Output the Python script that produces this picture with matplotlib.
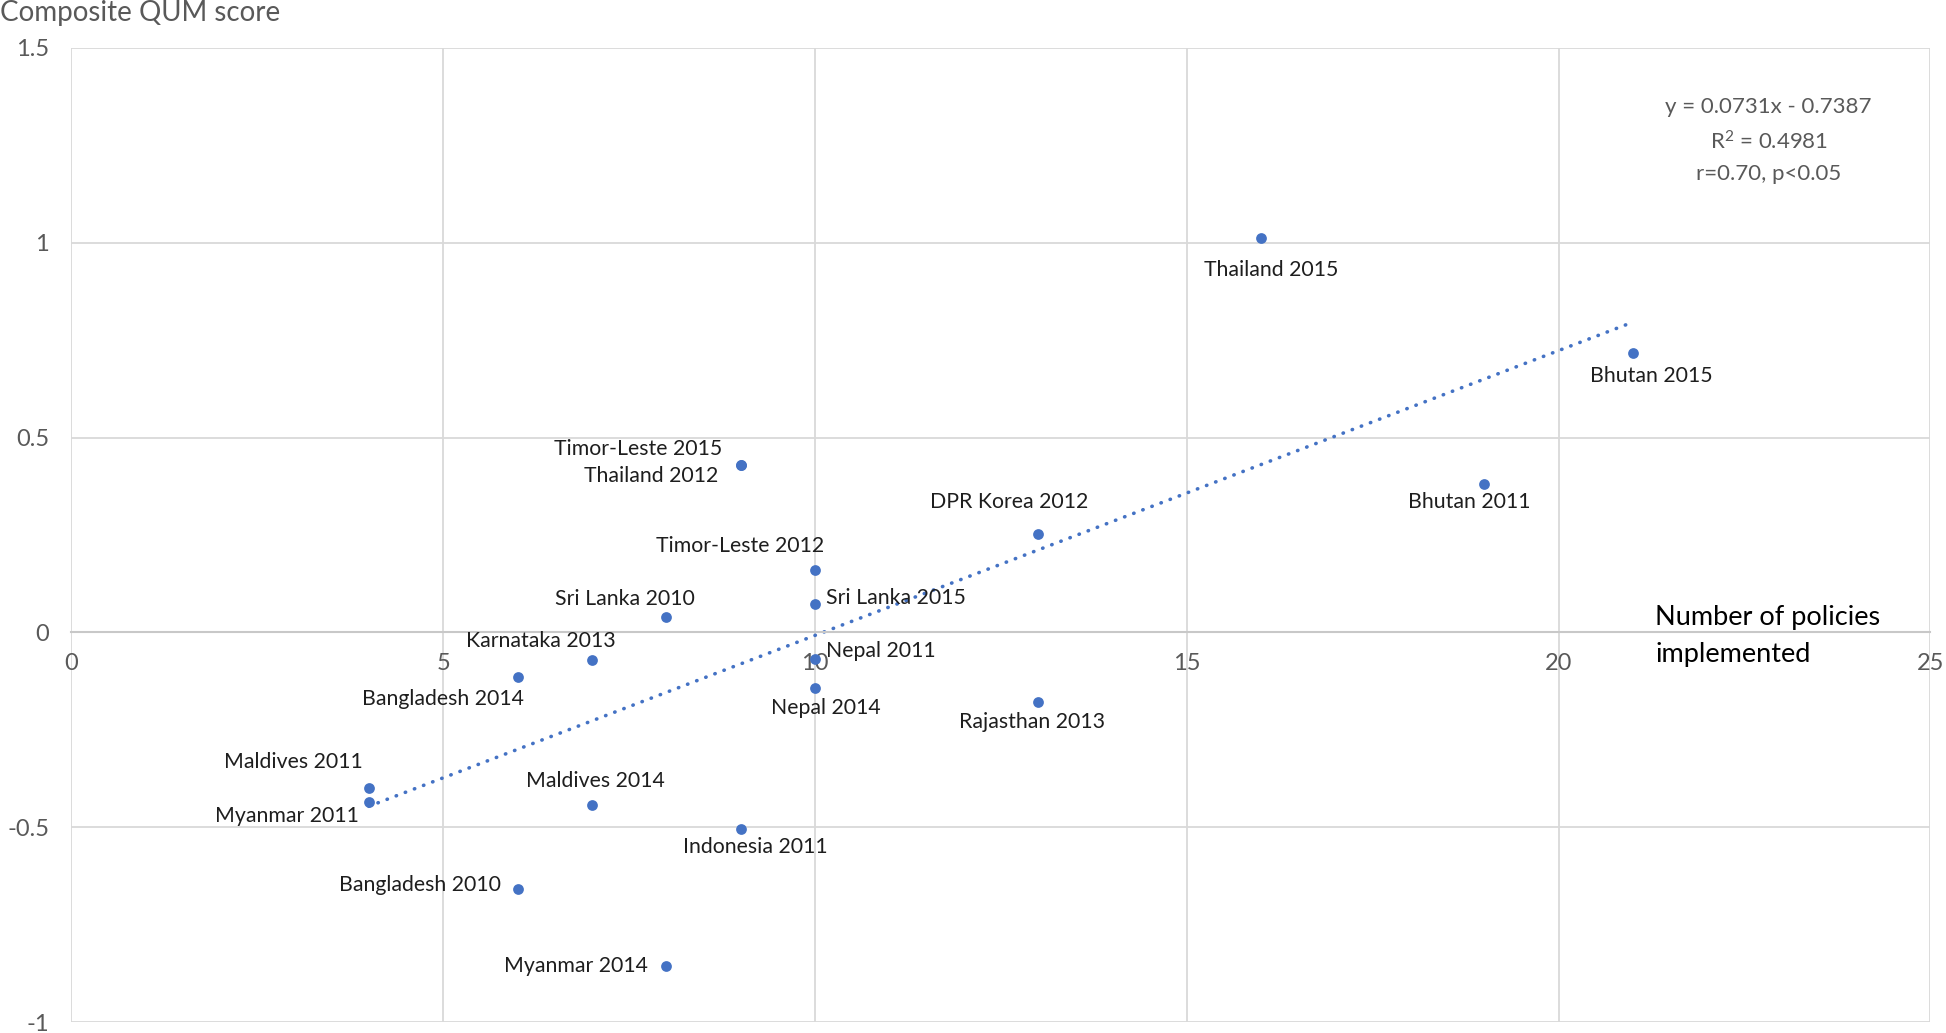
import matplotlib
matplotlib.use('Agg')
import matplotlib.pyplot as plt
import numpy as np

# Data
labels = ['Thailand 2015', 'Bhutan 2015', 'Bhutan 2011', 'Timor-Leste 2015', 'Thailand 2012',
          'DPR Korea 2012', 'Timor-Leste 2012', 'Sri Lanka 2015', 'Sri Lanka 2010', 'Karnataka 2013',
          'Nepal 2011', 'Bangladesh 2014', 'Nepal 2014', 'Rajasthan 2013', 'Maldives 2011',
          'Myanmar 2011', 'Maldives 2014', 'Indonesia 2011', 'Bangladesh 2010', 'Myanmar 2014']
policies = [16, 21, 19, 9, 9, 13, 10, 10, 8, 7, 10, 6, 10, 13, 4, 4, 7, 9, 6, 8]
qum_score = [1.013, 0.716, 0.380, 0.430, 0.430, 0.252, 0.160, 0.073, 0.040, -0.071,
             -0.068, -0.114, -0.142, -0.179, -0.399, -0.435, -0.444, -0.505, -0.658, -0.856]

slope, intercept = 0.0731, -0.7387
x_ticks = [0, 5, 10, 15, 20, 25]
y_ticks = [-1, -0.5, 0, 0.5, 1, 1.5]
y_tick_labels = ['-1', '-0.5', '0', '0.5', '1', '1.5']

# label placement: (dx, dy) in points, horizontal alignment
placement = {
    'Thailand 2015': (7, -23, 'center'),
    'Bhutan 2015': (13, -16, 'center'),
    'Bhutan 2011': (-11, -13, 'center'),
    'Timor-Leste 2015': (-13, 11.5, 'right'),
    'Thailand 2012': (-16, -8, 'right'),
    'DPR Korea 2012': (-21, 23, 'center'),
    'Timor-Leste 2012': (-54, 17, 'center'),
    'Sri Lanka 2015': (8, 4.5, 'left'),
    'Sri Lanka 2010': (-30, 12.5, 'center'),
    'Karnataka 2013': (-37, 13.4, 'center'),
    'Nepal 2011': (8, 6, 'left'),
    'Bangladesh 2014': (-54, -16, 'center'),
    'Nepal 2014': (8, -14.3, 'center'),
    'Rajasthan 2013': (-4.5, -14.3, 'center'),
    'Maldives 2011': (-54, 18.8, 'center'),
    'Myanmar 2011': (-7, -9.8, 'right'),
    'Maldives 2014': (2.7, 17.9, 'center'),
    'Indonesia 2011': (10.7, -12.5, 'center'),
    'Bangladesh 2010': (-12, 2.7, 'right'),
    'Myanmar 2014': (-13, 0, 'right'),
}

plt.rcParams['font.family'] = ['Lato', 'DejaVu Sans']
plt.rcParams['mathtext.fontset'] = 'custom'
plt.rcParams['mathtext.rm'] = 'Lato'
plt.rcParams['mathtext.default'] = 'regular'
blue = '#4472C4'
grid_col = '#d9d9d9'
tick_col = '#595959'

fig = plt.figure(figsize=(19.46, 10.33), dpi=100)
ax = fig.add_axes([0.0367, 0.0106, 0.9553, 0.943])

ax.set_xlim(0, 25)
ax.set_ylim(-1, 1.5)
ax.set_xticks(x_ticks)
ax.set_yticks(y_ticks)
ax.set_yticklabels(y_tick_labels)
ax.grid(True, color=grid_col, linewidth=1.3, zorder=0)
ax.set_axisbelow(True)

for side in ['top', 'right', 'left']:
    ax.spines[side].set_visible(False)
ax.spines['bottom'].set_position(('data', 0))
ax.spines['bottom'].set_color('#c8c8c8')
ax.spines['bottom'].set_linewidth(1.5)
ax.tick_params(axis='both', length=0, labelsize=17, labelcolor=tick_col)
ax.tick_params(axis='x', pad=15)
ax.tick_params(axis='y', pad=16)

# trendline
xs = np.array([min(policies), max(policies)])
ax.plot(xs, slope * xs + intercept, color=blue, linewidth=2.6,
        linestyle=(0, (0.1, 2.6)), dash_capstyle='round', zorder=2)

ax.scatter(policies, qum_score, s=60, color=blue, zorder=3, linewidths=0)

for name, x, y in zip(labels, policies, qum_score):
    dx, dy, ha = placement[name]
    ax.annotate(name, (x, y), xytext=(dx, dy), textcoords='offset points',
                ha=ha, va='center', fontsize=15.3, color='#1e1e1e', zorder=4)

ax.text(0.913, 0.905, 'y = 0.0731x - 0.7387\nR$^{2}$ = 0.4981\nr=0.70, p<0.05',
        transform=ax.transAxes, ha='center', va='center', fontsize=16,
        color=tick_col, linespacing=1.65)

ax.text(0.852, 0.396, 'Number of policies\nimplemented', transform=ax.transAxes,
        ha='left', va='center', fontsize=19.5, color='#000000', linespacing=1.6)

fig.text(0.0, 1.0, 'Composite QUM score', ha='left', va='top', fontsize=20, color=tick_col)

fig.savefig('out.png', dpi=100)
